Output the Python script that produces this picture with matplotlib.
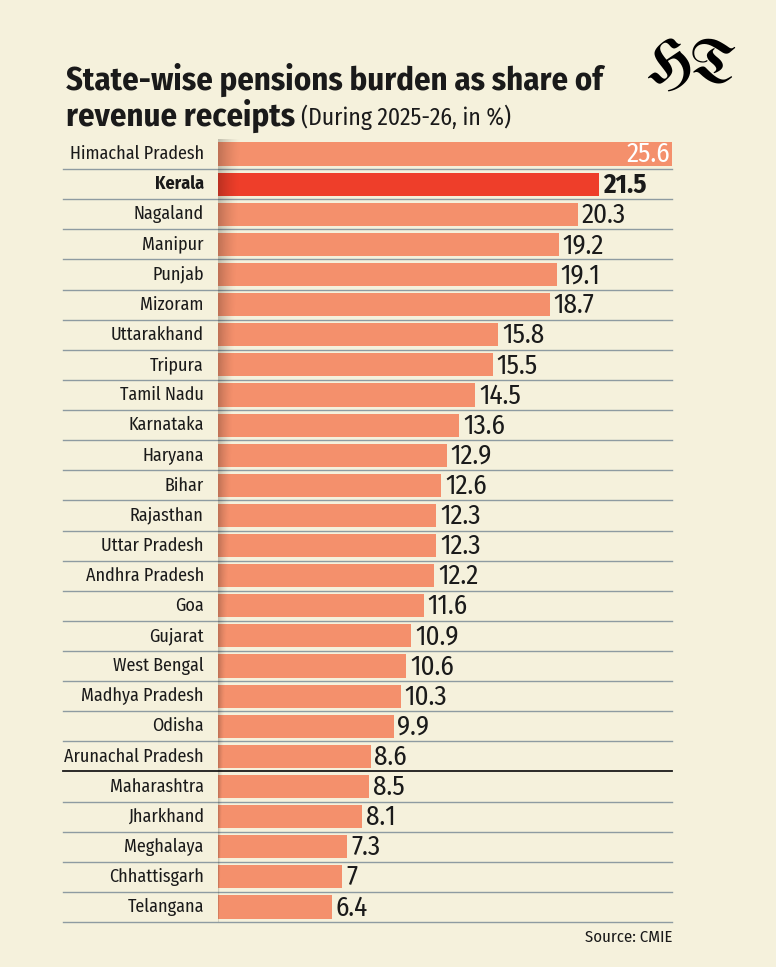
import matplotlib.pyplot as plt
import matplotlib.font_manager as fm
import numpy as np

states = ['Himachal Pradesh', 'Kerala', 'Nagaland', 'Manipur', 'Punjab', 'Mizoram',
          'Uttarakhand', 'Tripura', 'Tamil Nadu', 'Karnataka', 'Haryana', 'Bihar',
          'Rajasthan', 'Uttar Pradesh', 'Andhra Pradesh', 'Goa', 'Gujarat', 'West Bengal',
          'Madhya Pradesh', 'Odisha', 'Arunachal Pradesh', 'Maharashtra', 'Jharkhand',
          'Meghalaya', 'Chhattisgarh', 'Telangana']
values = [25.6, 21.5, 20.3, 19.2, 19.1, 18.7, 15.8, 15.5, 14.5, 13.6, 12.9, 12.6,
          12.3, 12.3, 12.2, 11.6, 10.9, 10.6, 10.3, 9.9, 8.6, 8.5, 8.1, 7.3, 7, 6.4]
value_labels = ['25.6', '21.5', '20.3', '19.2', '19.1', '18.7', '15.8', '15.5', '14.5',
                '13.6', '12.9', '12.6', '12.3', '12.3', '12.2', '11.6', '10.9', '10.6',
                '10.3', '9.9', '8.6', '8.5', '8.1', '7.3', '7', '6.4']
highlight = 'Kerala'

names = {f.name for f in fm.fontManager.ttflist}
def pick(*cands):
    for c in cands:
        if c in names:
            return c
    return 'DejaVu Sans'
narrow = pick('Fira Sans Condensed', 'Roboto Condensed', 'PT Sans Narrow')
gothic = pick('UnifrakturMaguntia', 'Pirata One', 'Grenze Gotisch', 'Germania One')

bg = '#f5f1dc'
bar_col = '#f4906c'
hi_col = '#ee3e2a'
line_col = '#8e9ba1'
ink = '#1a1a1a'

W, H = 776, 967
fig = plt.figure(figsize=(W / 100, H / 100), dpi=100, facecolor=bg)

# axes in pixel terms: bars start at x=218, max bar ends at x=672
left, right = 218, 672
top, bottom = 139, 922
ax = fig.add_axes([left / W, 1 - bottom / H, (right - left) / W, (bottom - top) / H])
ax.set_facecolor('none')
ax.axis('off')

n = len(states)
y = np.arange(n)
colors = [hi_col if s == highlight else bar_col for s in states]
ax.barh(y, values, height=0.77, color=colors, zorder=2)

# row separators, from the label column to the end of the longest bar
line_x0 = (63 - left) / (right - left)
for i, s in enumerate(states):
    dark = s == 'Arunachal Pradesh'
    ax.plot([line_x0, 1], [i + 0.5, i + 0.5], color=ink if dark else line_col,
            lw=1.3 if dark else 1.0, transform=ax.get_yaxis_transform(),
            clip_on=False, zorder=1)

# paper fold shadow at the base of the bars (wide at top, thin at bottom)
gx = np.linspace(0, 1.6, 80)
gy = np.linspace(-0.5, n - 0.5, 200)
GX, GY = np.meshgrid(gx, gy)
width = 1.3 - 1.25 * (GY + 0.5) / n
shade = np.clip(1 - GX / width, 0, 1) ** 1.5
rgba = np.zeros(shade.shape + (4,))
rgba[..., 3] = 0.22 * shade
ax.imshow(rgba, extent=[0, 1.6, n - 0.5, -0.5], aspect='auto', zorder=3,
          interpolation='bilinear')
ax.set_xlim(0, max(values))
ax.set_ylim(n - 0.5, -0.5)

for i, (s, v, lab) in enumerate(zip(states, values, value_labels)):
    bold = s == highlight
    ax.text(-0.8, i, s, ha='right', va='center', fontsize=13, family=narrow,
            fontweight='bold' if bold else 'normal', color=ink)
    if i == 0:
        ax.text(v - 0.1, i, lab, ha='right', va='center', fontsize=19.5, family=narrow,
                color='white')
    else:
        ax.text(v + 0.22, i + 0.03, lab, ha='left', va='center', fontsize=19.5,
                family=narrow, fontweight='bold' if bold else 'normal', color=ink)

fig.text(66 / W, 1 - 80 / H, 'State-wise pensions burden as share of', ha='left',
         va='center', fontsize=23.5, fontweight='bold', family=narrow, color=ink)
t = fig.text(66 / W, 1 - 116 / H, 'revenue receipts', ha='left', va='center',
             fontsize=23.5, fontweight='bold', family=narrow, color=ink)
fig.canvas.draw()
bb = t.get_window_extent()
fig.text((bb.x1 + 6) / W, 1 - 117 / H, '(During 2025-26, in %)', ha='left', va='center',
         fontsize=17, family=narrow, color=ink)

fig.text(692 / W, 1 - 66 / H, 'HT', ha='center', va='center', fontsize=44,
         family=gothic, color='black')

fig.text(672 / W, 1 - 937 / H, 'Source: CMIE', ha='right', va='center', fontsize=12,
         family=narrow, color=ink)

fig.savefig('out.png', dpi=100, facecolor=bg)
